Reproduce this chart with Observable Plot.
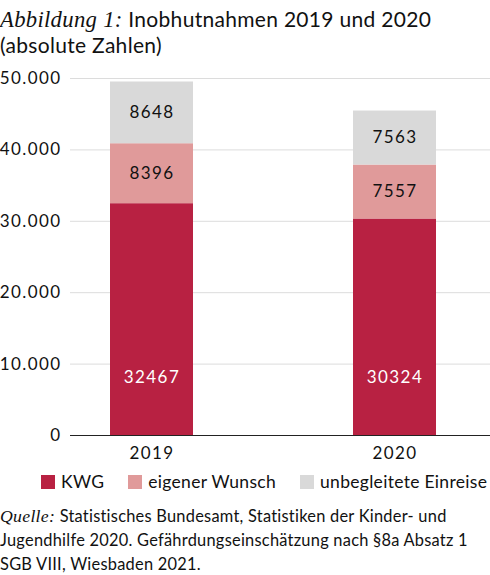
<!DOCTYPE html>
<html>
<head>
<meta charset="utf-8">
<script src="https://cdn.jsdelivr.net/npm/d3@7"></script>
<script src="https://cdn.jsdelivr.net/npm/@observablehq/plot@0.6"></script>
<style>
  body { margin: 0; width: 490px; font-family: Lato, "Noto Sans", sans-serif; color: #111; background: #fff; }
  h1 { margin: 6px 0 0 0; font-weight: 400; font-size: 21px; line-height: 26px; letter-spacing: 0.3px; }
  h1 i, .cap i { font-family: "Liberation Serif", serif; font-size: 1.08em; letter-spacing: 0.3px; line-height: 1; }
  #chart svg { letter-spacing: 1.4px; }
  #legend { margin: 0 0 0 41px; width: 449px; }
  #legend > div { flex-wrap: nowrap !important; white-space: nowrap; margin: 0 !important; }
  #legend span[class$="-swatch"] { margin-right: 24px; letter-spacing: 0.3px; }
  #legend span[class$="-swatch"] svg { margin-right: 6px; }
  .cap { margin: 6px 0 0 0; font-size: 16.4px; line-height: 24px; letter-spacing: 0.25px; }
</style>
</head>
<body>
<h1><i>Abbildung 1:</i> Inobhutnahmen 2019 und 2020<br>(absolute Zahlen)</h1>
<div id="chart"></div>
<div id="legend"></div>
<p class="cap"><i>Quelle:</i> Statistisches Bundesamt, Statistiken der Kinder- und Jugendhilfe 2020. Gefährdungseinschätzung nach §8a Absatz&nbsp;1<br>SGB VIII, Wiesbaden 2021.</p>
<script>
const jahre = ["2019", "2020"]
const kategorien = ["KWG", "eigener Wunsch", "unbegleitete Einreise"]
const kwg = [32467, 30324]
const wunsch = [8396, 7557]
const einreise = [8648, 7563]
const yTicks = [0, 10000, 20000, 30000, 40000, 50000]

const data = jahre.flatMap((j, i) => [
  {jahr: j, typ: kategorien[0], wert: kwg[i]},
  {jahr: j, typ: kategorien[1], wert: wunsch[i]},
  {jahr: j, typ: kategorien[2], wert: einreise[i]}
])

const fmt = d => d3.format(",")(d).replace(/,/g, ".")

let chart = Plot.plot({
  width: 490,
  height: 407,
  marginLeft: 70,
  marginRight: 0,
  marginTop: 20,
  marginBottom: 30,
  style: {fontFamily: "Lato, 'Noto Sans', sans-serif", fontSize: "17px", color: "#111"},
  x: {domain: jahre, paddingInner: 0.658, paddingOuter: 0.193, align: 0.426, label: null, tickSize: 0, tickPadding: 11},
  y: {domain: [0, 50000], ticks: yTicks, tickFormat: fmt, label: null, tickSize: 0, tickPadding: 9},
  color: {domain: kategorien, range: ["#b82142", "#e09a9a", "#d9d9d9"]},
  marks: [
    Plot.gridY(yTicks, {stroke: "#dcdcdc", strokeOpacity: 1}),
    Plot.barY(data, Plot.stackY({x: "jahr", y: "wert", fill: "typ", order: kategorien})),
    // Labels der oberen Segmente in der Mitte
    Plot.text(data, Plot.stackY({x: "jahr", y: "wert", z: "typ", order: kategorien,
      text: d => d.typ == "KWG" ? "" : String(d.wert), fill: "#111", fontSize: 17})),
    // KWG-Label weiter unten
    Plot.text(data.filter(d => d.typ == "KWG"),
      {x: "jahr", y: () => 0, text: d => String(d.wert), dy: -58, fill: "white", fontSize: 17}),
    Plot.ruleY([0], {stroke: "#222"})
  ]
})

d3.select('#chart').append(() => chart)

let legend = chart.legend("color", {swatchSize: 14, style: {fontSize: "17.5px", fontFamily: "Lato, 'Noto Sans', sans-serif", color: "#111"}})
d3.select('#legend').append(() => legend)
</script>
</body>
</html>
